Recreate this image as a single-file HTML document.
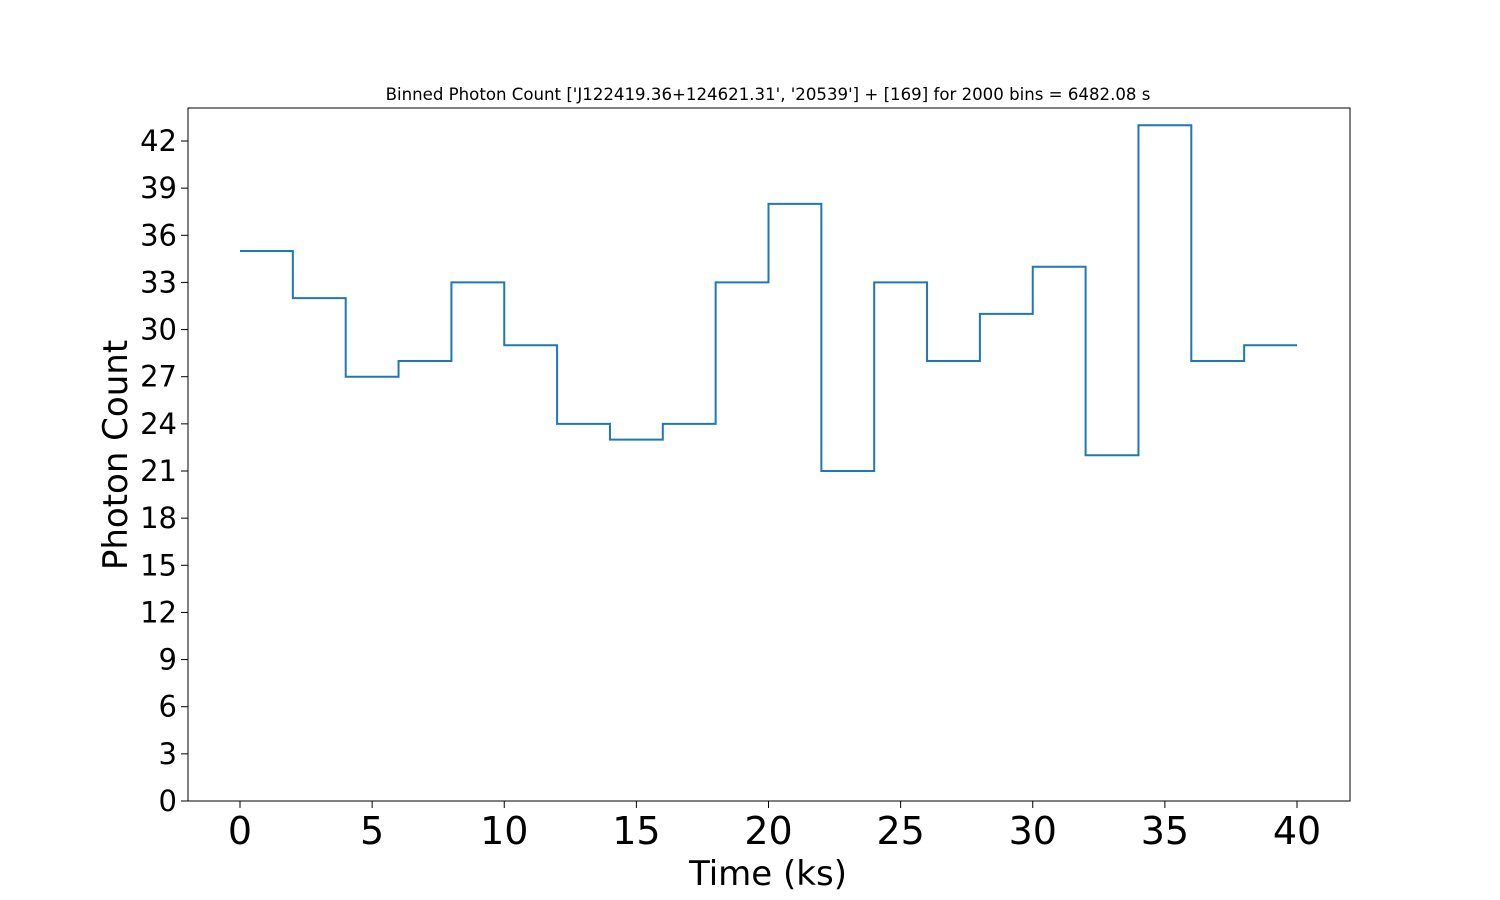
<!DOCTYPE html>
<html>
<head>
<meta charset="utf-8">
<style>
  html,body{margin:0;padding:0;background:#fff;}
  svg{display:block;font-family:"DejaVu Sans","Liberation Sans",sans-serif;}
</style>
</head>
<body>
<svg id="chart" width="1500" height="900" viewBox="0 0 1500 900" xmlns="http://www.w3.org/2000/svg">
  <rect width="1500" height="900" fill="#fff"/>
  <text x="768" y="100" text-anchor="middle" font-size="16.6" fill="#000">Binned Photon Count ['J122419.36+124621.31', '20539'] + [169] for 2000 bins = 6482.08 s</text>
  <g id="xticks"></g>
  <g id="yticks"></g>
  <path id="series" fill="none" stroke="#1f77b4" stroke-width="2"/>
  <rect x="188" y="108" width="1162" height="693" fill="none" stroke="#000" stroke-width="1"/>
  <text x="768" y="885" text-anchor="middle" font-size="34" fill="#000">Time (ks)</text>
  <text transform="translate(127,455) rotate(-90)" text-anchor="middle" font-size="34" fill="#000">Photon Count</text>
</svg>
<script>
const binStarts = [0,2,4,6,8,10,12,14,16,18,20,22,24,26,28,30,32,34,36,38];
const binEnd = 40;
const counts = [35,32,27,28,33,29,24,23,24,33,38,21,33,28,31,34,22,43,28,29];
const xTickLabels = [0,5,10,15,20,25,30,35,40];
const yTickLabels = [0,3,6,9,12,15,18,21,24,27,30,33,36,39,42];

const NS = "http://www.w3.org/2000/svg";
function xs(v){ return 240 + v * (1297 - 240) / 40; }
function ys(v){ return 801 - v * (801 - 141) / 42; }

const xg = document.getElementById('xticks');
xTickLabels.forEach(v => {
  const l = document.createElementNS(NS,'line');
  l.setAttribute('x1', xs(v)); l.setAttribute('x2', xs(v));
  l.setAttribute('y1', 801); l.setAttribute('y2', 808);
  l.setAttribute('stroke','#000');
  
  
  xg.appendChild(l);
  const t = document.createElementNS(NS,'text');
  t.setAttribute('x', xs(v)); t.setAttribute('y', 844);
  t.setAttribute('text-anchor','middle'); t.setAttribute('font-size','38');
  t.textContent = v;
  
  
  xg.appendChild(t);
});

const yg = document.getElementById('yticks');
yTickLabels.forEach(v => {
  const l = document.createElementNS(NS,'line');
  l.setAttribute('x1', 181); l.setAttribute('x2', 188);
  l.setAttribute('y1', ys(v)); l.setAttribute('y2', ys(v));
  l.setAttribute('stroke','#000');
  
  
  yg.appendChild(l);
  const t = document.createElementNS(NS,'text');
  t.setAttribute('x', 177); t.setAttribute('y', ys(v) + 10);
  t.setAttribute('text-anchor','end'); t.setAttribute('font-size','29');
  t.textContent = v;
  
  
  yg.appendChild(t);
});

let d = '';
counts.forEach((c, i) => {
  const x0 = xs(binStarts[i]);
  const x1 = xs(i + 1 < binStarts.length ? binStarts[i + 1] : binEnd);
  d += (i === 0 ? 'M' : 'L') + x0 + ',' + ys(c) + ' L' + x1 + ',' + ys(c) + ' ';
});
document.getElementById('series').setAttribute('d', d);
</script>
</body>
</html>
